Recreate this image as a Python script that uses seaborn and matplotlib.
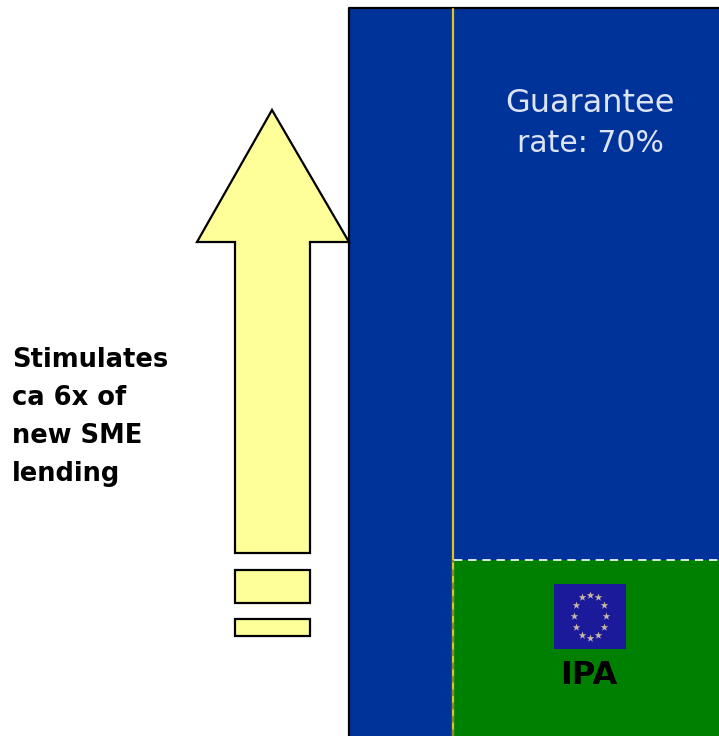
import matplotlib
matplotlib.use("Agg")
import matplotlib.pyplot as plt
from matplotlib.patches import Polygon, Rectangle
import seaborn as sns

sns.set_theme(style="white")
plt.rcParams["font.family"] = ["DejaVu Sans"]

W, H = 719, 736

# Column layers on a canvas measured in pixels from the bottom-left corner
left_col = {"centre": 401, "width": 104, "height": 728}
right_col = {"centre": 586, "width": 266}
green_height = 176
blue_height = 552

# Growth arrow outline and the two trailing blocks
arrow_x = [272, 349, 310, 310, 235, 235, 197]
arrow_y = [626, 494, 494, 183, 183, 494, 494]
block_left = [235, 235]
block_bottom = [133, 100]
block_height = [33, 17]
block_width = 75

# Ring of stars on the flag
star_x = [590, 598, 603.7, 606, 603.7, 598, 590, 582, 576.3, 574, 576.3, 582]
star_y = [141.3, 138.7, 130.7, 120, 109, 101.3, 98.3, 101.3, 109, 120, 130.7, 138.7]

BLUE = "#003399"
GREEN = "#008000"
CREAM = "#FFFF99"
GOLD = "#E3C21F"
FLAG = "#1A1A9A"

fig = plt.figure(figsize=(W / 100, H / 100), dpi=100)
ax = fig.add_axes([0, 0, 1, 1])

sns.barplot(x=[left_col["centre"]], y=[left_col["height"]], native_scale=True,
            width=left_col["width"], color=BLUE, saturation=1, linewidth=0, ax=ax)
sns.barplot(x=[right_col["centre"]], y=[green_height], native_scale=True,
            width=right_col["width"], color=GREEN, saturation=1, linewidth=0, ax=ax)
sns.barplot(x=[right_col["centre"]], y=[blue_height], bottom=green_height, native_scale=True,
            width=right_col["width"], color=BLUE, saturation=1, linewidth=0, ax=ax)

ax.set_xlim(0, W)
ax.set_ylim(0, H)
ax.set_axis_off()

# Column outline: left edge and top edge, plus the gold divider
ax.plot([349, 349, 719], [0, 728, 728], color="black", lw=1.6, zorder=4)
ax.plot([453, 453], [0, 727], color=GOLD, lw=1.6, zorder=4)
ax.plot([453, 453], [0, 176], color="#8A8C20", lw=1.6, ls=(0, (3, 3)), zorder=4)
ax.plot([454, 719], [176, 176], color="white", lw=1.2, ls=(0, (5, 3.5)), zorder=4)

# Arrow and blocks
ax.add_patch(Polygon(list(zip(arrow_x, arrow_y)), closed=True, fc=CREAM, ec="black",
                     lw=1.6, zorder=5))
for x0, y0, h in zip(block_left, block_bottom, block_height):
    ax.add_patch(Rectangle((x0, y0), block_width, h, fc=CREAM, ec="black", lw=1.6, zorder=5))

# Flag
ax.add_patch(Rectangle((554, 87), 72, 65, fc=FLAG, ec="none", zorder=5))
ax.scatter(star_x, star_y, marker="*", s=34, color="#C9B9A0", linewidths=0, zorder=6)

# Text
ax.text(590, 632, "Guarantee", color="#DCE3F3", fontsize=23, ha="center", va="center",
        fontweight="normal", zorder=7)
ax.text(590, 593, "rate: 70%", color="#DCE3F3", fontsize=21.5, ha="center", va="center",
        fontweight="normal", zorder=7)
ax.text(589, 60, "IPA", color="black", fontsize=23, ha="center", va="center",
        fontweight="bold", zorder=7)

side_lines = ["Stimulates", "ca 6x of", "new SME", "lending"]
side_y = [376, 338, 300, 262]
for line, y in zip(side_lines, side_y):
    ax.text(12, y, line, color="black", fontsize=18.5, ha="left", va="center",
            fontweight="bold", zorder=7)

fig.savefig("out.png", dpi=100, facecolor="white")
